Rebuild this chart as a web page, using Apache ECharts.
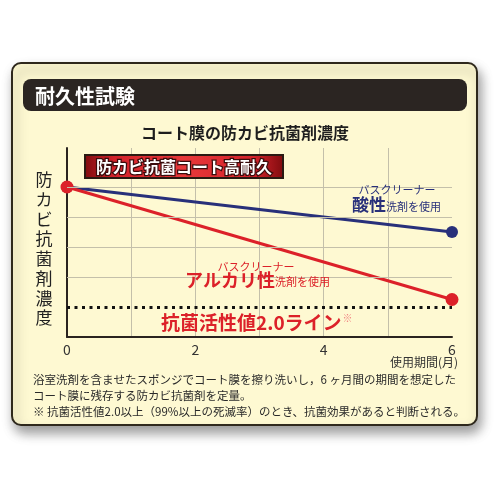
<!DOCTYPE html>
<html>
<head>
<meta charset="utf-8">
<script src="https://cdn.jsdelivr.net/npm/echarts@6/dist/echarts.min.js"></script>
<style>
  html, body { margin: 0; padding: 0; background: #fff; }
  #chart { width: 500px; height: 500px; }
</style>
</head>
<body>
<div id="chart"></div>
<script>
// 使用期間(月)
var months = [0, 6];
// 酸性洗剤 / アルカリ性洗剤 の濃度
var acidValues = [5.0, 3.5];
var alkaliValues = [5.0, 1.25];
// 抗菌活性値2.0ライン
var thresholdValue = 1;
var gridValues = [2, 3, 4, 5];
var xTickLabels = ['0', '2', '4', '6'];

var FONT = '"Noto Sans CJK JP", "Noto Sans", sans-serif';
var RED = '#dc2129';
var NAVY = '#28307a';

function pairs(xs, ys) {
  var out = [];
  for (var i = 0; i < xs.length; i++) out.push([xs[i], ys[i]]);
  return out;
}

var chart = echarts.init(document.getElementById('chart'));

var option = {
  backgroundColor: '#ffffff',
  animation: false,
  textStyle: { fontFamily: FONT },
  grid: { left: 67, right: 48, top: 148, bottom: 163 },
  xAxis: {
    type: 'value',
    min: 0,
    max: 6,
    interval: 1,
    axisLine: { lineStyle: { color: '#2a2420', width: 2 } },
    axisTick: { show: false },
    axisLabel: {
      fontSize: 14,
      color: '#333',
      margin: 6,
      fontFamily: FONT,
      formatter: function (v) {
        return xTickLabels.indexOf(String(v)) >= 0 ? String(v) : '';
      }
    },
    splitLine: {
      show: true,
      showMinLine: false,
      showMaxLine: false,
      lineStyle: { color: '#c4c0aa', width: 1 }
    }
  },
  yAxis: {
    type: 'value',
    min: 0,
    max: 6.3,
    axisLine: { show: true, lineStyle: { color: '#2a2420', width: 2 } },
    axisTick: { show: false },
    axisLabel: { show: false },
    splitLine: { show: false }
  },
  series: [
    {
      name: 'grid',
      type: 'line',
      data: [],
      silent: true,
      z: 1,
      markLine: {
        silent: true,
        symbol: 'none',
        label: { show: false },
        lineStyle: { color: '#c4c0aa', width: 1, type: 'solid' },
        data: gridValues.map(function (v) { return { yAxis: v }; })
          .concat([{ yAxis: thresholdValue, lineStyle: { color: '#111', width: 3, type: [3, 4.5] } }])
      }
    },
    {
      name: '酸性',
      type: 'line',
      data: pairs(months, acidValues),
      symbol: 'circle',
      symbolSize: 12,
      z: 3,
      lineStyle: { color: NAVY, width: 3 },
      itemStyle: { color: NAVY }
    },
    {
      name: 'アルカリ性',
      type: 'line',
      data: pairs(months, alkaliValues),
      symbol: 'circle',
      symbolSize: 13,
      z: 4,
      lineStyle: { color: RED, width: 3 },
      itemStyle: { color: RED }
    }
  ],
  graphic: [
    // card
    {
      type: 'rect', z: -10,
      shape: { x: 12, y: 63, width: 465, height: 362, r: 9 },
      style: {
        fill: '#fef9d2', stroke: '#2e281c', lineWidth: 2,
        shadowBlur: 12, shadowOffsetX: 3, shadowOffsetY: 7, shadowColor: 'rgba(0,0,0,0.4)'
      }
    },
    {
      type: 'rect', z: -9,
      shape: { x: 23, y: 79, width: 444, height: 32, r: 8 },
      style: { fill: '#2b2522' }
    },
    {
      type: 'text', z: 10,
      style: { x: 35, y: 96, text: '耐久性試験', fill: '#fff', font: 'bold 20px ' + FONT, verticalAlign: 'middle' }
    },
    {
      type: 'text', z: 10,
      style: { x: 245, y: 133, text: 'コート膜の防カビ抗菌剤濃度', fill: '#1e1e1e', font: 'bold 16px ' + FONT, align: 'center', verticalAlign: 'middle' }
    },
    // y axis name, vertical
    {
      type: 'text', z: 10,
      style: {
        x: 44, y: 170, text: '防\nカ\nビ\n抗\n菌\n剤\n濃\n度',
        fill: '#222', font: '17px ' + FONT, lineHeight: 19.7, align: 'center', verticalAlign: 'top'
      }
    },
    // red badge
    {
      type: 'rect', z: 10,
      shape: { x: 85, y: 155, width: 198, height: 23 },
      style: {
        fill: {
          type: 'linear', x: 0, y: 0, x2: 1, y2: 0,
          colorStops: [
            { offset: 0, color: '#7e0b0e' },
            { offset: 0.15, color: '#d3222a' },
            { offset: 0.5, color: '#e8383a' },
            { offset: 0.85, color: '#d3222a' },
            { offset: 1, color: '#7e0b0e' }
          ]
        },
        stroke: '#2a1a12', lineWidth: 2
      }
    },
    {
      type: 'text', z: 11,
      style: {
        x: 184, y: 167, text: '防カビ抗菌コート高耐久', fill: '#fff',
        font: 'bold 16px ' + FONT, align: 'center', verticalAlign: 'middle',
        stroke: '#3a0c0c', lineWidth: 2.5
      }
    },
    // acid annotation
    {
      type: 'text', z: 10,
      style: { x: 397, y: 190, text: 'バスクリーナー', fill: NAVY, font: '11px ' + FONT, align: 'center', verticalAlign: 'middle' }
    },
    {
      type: 'text', z: 10,
      style: {
        x: 352, y: 205, text: '{b|酸性}{s|洗剤を使用}', verticalAlign: 'middle',
        rich: {
          b: { fill: NAVY, font: 'bold 17px ' + FONT },
          s: { fill: NAVY, font: '11px ' + FONT, padding: [4, 0, 0, 0] }
        }
      }
    },
    // alkali annotation
    {
      type: 'text', z: 10,
      style: { x: 256, y: 267, text: 'バスクリーナー', fill: RED, font: '11px ' + FONT, align: 'center', verticalAlign: 'middle' }
    },
    {
      type: 'text', z: 10,
      style: {
        x: 185, y: 280, text: '{b|アルカリ性}{s|洗剤を使用}', verticalAlign: 'middle',
        rich: {
          b: { fill: RED, font: 'bold 18px ' + FONT },
          s: { fill: RED, font: '11px ' + FONT, padding: [4, 0, 0, 0] }
        }
      }
    },
    // threshold label
    {
      type: 'text', z: 10,
      style: {
        x: 161, y: 323, text: '{b|抗菌活性値2.0ライン}{m|※}', verticalAlign: 'middle',
        rich: {
          b: { fill: RED, font: 'bold 19px ' + FONT },
          m: { fill: '#f08080', font: '10px ' + FONT, padding: [0, 0, 10, 1] }
        }
      }
    },
    {
      type: 'text', z: 10,
      style: { x: 458, y: 362, text: '使用期間(月)', fill: '#333', font: '12px ' + FONT, align: 'right', verticalAlign: 'middle' }
    },
    // footnotes
    {
      type: 'text', z: 10,
      style: {
        x: 33, y: 372,
        text: '浴室洗剤を含ませたスポンジでコート膜を擦り洗いし，6 ヶ月間の期間を想定した\nコート膜に残存する防カビ抗菌剤を定量。\n※ 抗菌活性値2.0以上（99%以上の死滅率）のとき、抗菌効果があると判断される。',
        fill: '#2a2a2a', font: '11.5px ' + FONT, lineHeight: 16, verticalAlign: 'top'
      }
    }
  ]
};

chart.setOption(option);
</script>
</body>
</html>
